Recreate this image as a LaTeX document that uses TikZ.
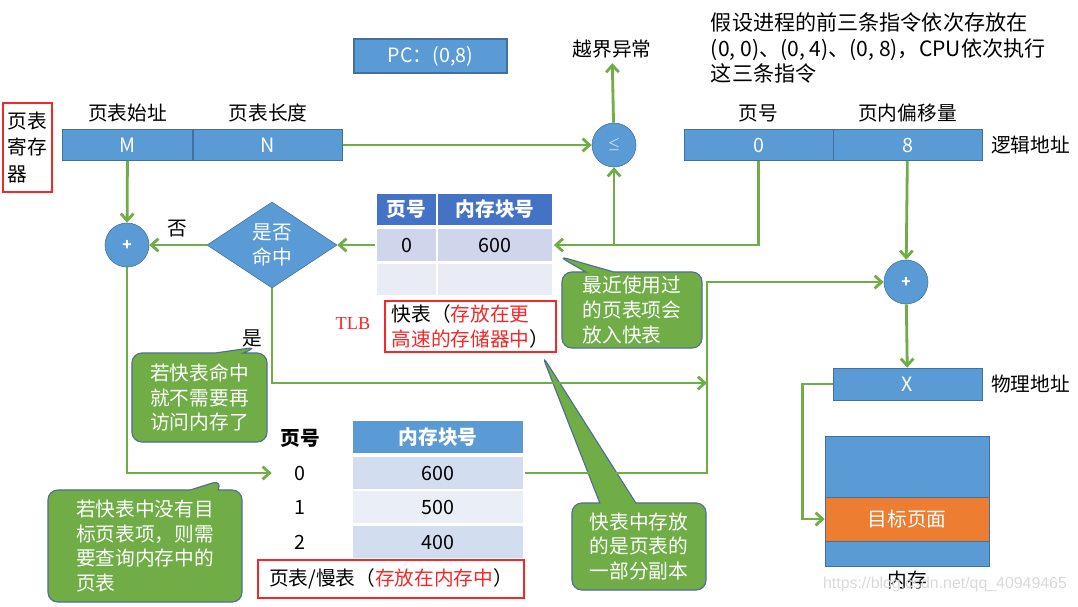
\documentclass[tikz,border=0pt]{standalone}
\usepackage{fontspec}
\setmainfont{Noto Sans CJK SC}
\newfontfamily\tlbfont{Liberation Serif}
\newfontfamily\urlfont{Liberation Sans}
\usetikzlibrary{arrows.meta, positioning, shapes.geometric, shapes.callouts}
\definecolor{cellblue}{RGB}{91,155,213}
\definecolor{celledge}{RGB}{65,113,156}
\definecolor{headblue}{RGB}{68,114,196}
\definecolor{tlbrowa}{RGB}{207,213,234}
\definecolor{tlbrowb}{RGB}{233,235,245}
\definecolor{ptrowa}{RGB}{210,222,239}
\definecolor{ptrowb}{RGB}{234,239,247}
\definecolor{flowgreen}{RGB}{112,173,71}
\definecolor{noteedge}{RGB}{80,110,145}
\definecolor{pageorange}{RGB}{237,125,49}
\definecolor{markred}{RGB}{245,40,40}

\begin{document}
\begin{tikzpicture}[
    x=0.025cm, y=-0.025cm,
    font=\fontsize{14}{17.5}\selectfont,
    node distance=0.5mm,
    cell/.style={
      rectangle,
      draw=celledge,
      fill=cellblue,
      text=white,
      inner sep=0pt,
      minimum height=0.78cm
    },
    adder/.style={circle, draw=celledge, fill=cellblue, text=white, minimum size=1.1cm, inner sep=0pt, font=\bfseries\fontsize{11}{12}\selectfont},
    tablecell/.style={rectangle, draw=white, line width=1.2pt, inner sep=0pt, minimum height=0.83cm},
    headcell/.style={tablecell, text=white, font=\bfseries\fontsize{14}{17}\selectfont},
    redbox/.style={rectangle, draw=markred, line width=1.4pt, inner sep=0pt},
    note/.style={
      rectangle callout,
      rounded corners=7pt,
      draw=noteedge,
      thick,
      fill=flowgreen,
      text=white,
      align=left,
      inner sep=0pt,
      callout pointer width=0.7cm
    },
    flow/.style={draw=flowgreen, line width=2pt, -{Straight Barb[length=5pt,width=9pt]}}
]
\useasboundingbox (0,0) rectangle (1078,606);

\node[redbox, minimum width=1.225cm, minimum height=2.225cm, align=left, font=\fontsize{14}{18.5}\selectfont] (regname) at (27.5,147.5) {页表\\寄存\\器};
\node[cell, minimum width=3.25cm] (regm) at (127.5,145) {M};
\node[cell, minimum width=3.725cm] (regn) at (268,145) {N};
\node[above=of regm] (startlbl) {页表始址};
\node[above=of regn] (lenlbl) {页表长度};

\node[cell, minimum width=3.825cm, minimum height=0.85cm, line width=1pt] (pc) at (430.5,56) {PC：(0,8)};

\node[adder] (le) at (614,145) {$\leq$};
\node (overflow) at (612,49) {越界异常};

\node[align=left, anchor=west, font=\fontsize{15}{18}\selectfont] (task) at (706,48) {假设进程的前三条指令依次存放在\\(0, 0)、(0, 4)、(0, 8)，CPU依次执行\\这三条指令};

\node[cell, minimum width=3.725cm] (pgno) at (758.5,145) {0};
\node[cell, minimum width=3.725cm] (offs) at (907.5,145) {8};
\node[above=of pgno] (pgnolbl) {页号};
\node[above=of offs] (offslbl) {页内偏移量};
\node[right=1mm of offs] (logic) {逻辑地址};

\node[adder] (padd) at (906,282) {+};
\node[cell, minimum width=3.725cm, minimum height=0.8cm] (phys) at (907.5,384) {X};
\node[right=1mm of phys] (physlbl) {物理地址};

\node[cell, minimum width=4.1cm, minimum height=3.25cm] (mem) at (907,501) {};
\node[cell, fill=pageorange, minimum width=4.1cm, minimum height=1.1cm] (target) at (907,519) {目标页面};
\node[below=0mm of mem] (memlbl) {内存};

\node[adder] (ladd) at (127,245) {+};
\node[diamond, draw=celledge, fill=cellblue, text=white, minimum width=3.25cm, minimum height=2.15cm, inner sep=0pt, align=center] (hit) at (272,245) {是否\\命中};
\node (nolbl) at (177,229) {否};
\node (yeslbl) at (252,338) {是};

\node[headcell, fill=headblue, minimum width=1.525cm] (tlbh1) at (406.5,209.5) {页号};
\node[headcell, fill=headblue, minimum width=2.9cm] (tlbh2) at (495,209.5) {内存块号};
\node[tablecell, fill=tlbrowa, minimum width=1.525cm] (tlba1) at (406.5,245) {0};
\node[tablecell, fill=tlbrowa, minimum width=2.9cm] (tlba2) at (495,245) {600};
\node[tablecell, fill=tlbrowb, minimum width=1.525cm] (tlbb1) at (406.5,279.5) {};
\node[tablecell, fill=tlbrowb, minimum width=2.9cm] (tlbb2) at (495,279.5) {};
\node[redbox, minimum width=4.275cm, minimum height=1.275cm, align=left] (tlbname) at (470.5,326.5) {快表（\textcolor{markred}{存放在更}\\\textcolor{markred}{高速的存储器中}）};
\node[text=markred, font=\tlbfont\fontsize{13}{15}\selectfont] (tlbtag) at (353,324) {TLB};

\node[font=\bfseries\fontsize{14}{17}\selectfont] (pth1) at (300,438) {页号};
\node[headcell, fill=cellblue, minimum width=4.3cm] (pth2) at (438,437) {内存块号};
\node[minimum width=1.4cm, inner sep=0pt] (pt0) at (300,473) {0};
\node[tablecell, fill=ptrowa, minimum width=4.3cm] (pt0b) at (438,473) {600};
\node[minimum width=1.4cm, inner sep=0pt] (pt1) at (300,507) {1};
\node[tablecell, fill=ptrowb, minimum width=4.3cm] (pt1b) at (438,507) {500};
\node[minimum width=1.4cm, inner sep=0pt] (pt2) at (300,542) {2};
\node[tablecell, fill=ptrowa, minimum width=4.3cm] (pt2b) at (438,542) {400};
\node[redbox, minimum width=6.65cm, minimum height=0.95cm] (ptname) at (391,579) {页表/慢表（\textcolor{markred}{存放在内存中}）};

\node[note, minimum width=3.375cm, minimum height=2.225cm, callout absolute pointer={(257,347)}] (hitnote) at (199.5,397.5) {若快表命中\\就不需要再\\访问内存了};
\node[note, minimum width=4.85cm, minimum height=2.8cm, callout absolute pointer={(222,480)}] (missnote) at (145,546) {若快表中没有目\\标页表项，则需\\要查询内存中的\\页表};
\node[note, minimum width=3.5cm, minimum height=1.9cm, callout absolute pointer={(558,256)}] (recentnote) at (632,310) {最近使用过\\的页表项会\\放入快表};
\node[note, minimum width=3.35cm, minimum height=2.175cm, callout pointer width=0.9cm, callout absolute pointer={(542,355)}] (copynote) at (639,546.5) {快表中存放\\的是页表的\\一部分副本};

\node[text=gray!30, font=\urlfont\fontsize{11.3}{13}\selectfont] (wmark) at (945,584) {https://blog.csdn.net/qq\_40949465};

\coordinate (merge) at (707,383);

\draw[flow] (regn) -- (le);
\draw[flow] (le) -- (overflow);
\draw[flow] (pgno) |- (tlba2);
\draw[flow] (le.south |- tlba2.east) -- (le);
\draw[flow] (offs) -- (padd);
\draw[flow] (padd) -- (phys);
\draw[flow] (phys.west) -- ++(-30,0) |- (target.west);
\draw[flow] (regm) -- (ladd);
\draw[flow] (tlba1) -- (hit);
\draw[flow] (hit) -- (ladd);
\draw[flow] (ladd) |- (pt0);
\draw[flow] (hit) |- (merge);
\draw[flow] (pt0b) -| (merge) |- (padd);
\end{tikzpicture}
\end{document}
